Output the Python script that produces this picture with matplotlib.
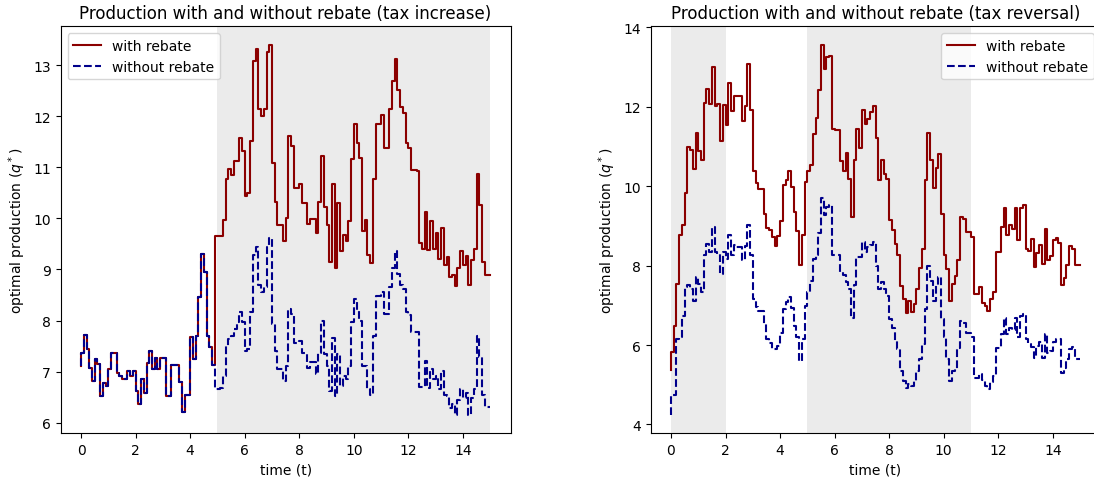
import numpy as np
import matplotlib
matplotlib.use("Agg")
import matplotlib.pyplot as plt

# time grid (0 .. 15 in steps of 0.1)
time = np.round(np.arange(151) * 0.1, 1)

# ---- left panel: tax increase ----
inc_common = [7.11, 7.36, 7.72, 7.44, 7.08, 6.82, 7.24, 7.14, 6.53, 6.78,
              6.72, 7.05, 7.37, 7.37, 6.98, 6.91, 6.85, 6.85, 7.01, 6.91,
              7.01, 6.62, 6.37, 6.85, 6.59, 7.16, 7.40, 7.05, 7.26, 7.05,
              7.26, 7.26, 6.53, 6.53, 7.12, 7.12, 7.12, 6.80, 6.20, 6.55,
              6.55, 7.67, 7.24, 7.70, 8.46, 9.31, 8.95, 7.70, 7.49, 7.12]
inc_with_after = [9.66, 9.66, 9.66, 9.97, 10.78, 10.96, 10.85, 11.12, 11.12, 11.58,
                  11.32, 10.43, 10.50, 11.52, 13.09, 13.32, 12.14, 12.01, 12.14, 13.26,
                  13.40, 11.09, 10.33, 9.87, 9.87, 9.56, 10.00, 11.61, 11.42, 10.60,
                  10.60, 10.67, 10.30, 10.30, 9.90, 9.99, 9.99, 9.71, 10.32, 11.23,
                  10.23, 9.87, 9.15, 10.67, 9.03, 10.30, 9.36, 9.67, 9.56, 9.95,
                  11.17, 11.84, 11.48, 11.19, 9.75, 9.97, 9.28, 9.12, 10.78, 11.84,
                  11.84, 12.03, 11.37, 11.37, 12.14, 12.69, 13.13, 12.51, 12.19, 12.06,
                  11.48, 11.37, 10.95, 10.95, 10.92, 9.51, 9.41, 10.12, 9.38, 9.95,
                  9.40, 9.71, 9.20, 9.82, 9.08, 9.25, 8.85, 8.90, 8.68, 9.02,
                  9.36, 9.08, 9.27, 8.69, 9.18, 9.40, 10.86, 10.27, 9.15, 8.89,
                  8.89]
inc_without_after = [6.65, 6.65, 6.68, 6.91, 7.51, 7.64, 7.70, 7.83, 7.97, 8.16,
                     7.97, 7.41, 7.44, 8.16, 9.28, 9.44, 8.69, 8.56, 8.66, 9.44,
                     9.61, 7.93, 7.41, 7.05, 7.05, 6.81, 7.11, 8.23, 8.13, 7.57,
                     7.57, 7.60, 7.37, 7.37, 7.08, 7.18, 7.18, 6.95, 7.37, 8.00,
                     7.34, 7.11, 6.62, 7.65, 6.52, 7.34, 6.72, 6.91, 6.85, 7.11,
                     7.97, 8.43, 8.20, 8.00, 7.11, 7.11, 6.65, 6.55, 7.70, 8.49,
                     8.49, 8.56, 8.13, 8.13, 8.66, 9.02, 9.36, 8.92, 8.69, 8.62,
                     8.16, 8.10, 7.77, 7.77, 7.77, 6.70, 6.70, 7.21, 6.68, 7.06,
                     6.85, 6.91, 6.65, 7.01, 6.55, 6.52, 6.29, 6.36, 6.16, 6.45,
                     6.66, 6.49, 6.59, 6.16, 6.49, 6.66, 7.69, 7.28, 6.55, 6.31,
                     6.31]
inc_with = inc_common + inc_with_after
inc_without = inc_common + inc_without_after

# ---- right panel: tax reversal ----
rev_with = [5.37, 5.82, 6.47, 7.54, 8.76, 9.02, 9.82, 10.98, 10.92, 10.44,
            11.33, 10.89, 10.66, 12.10, 12.45, 12.06, 12.99, 12.01, 12.06, 11.13,
            12.04, 11.55, 12.61, 11.89, 12.27, 12.27, 12.27, 11.65, 12.01, 13.07,
            11.93, 10.38, 10.07, 9.93, 9.93, 9.29, 8.95, 8.89, 8.72, 8.49,
            8.75, 9.12, 10.03, 10.16, 10.37, 9.99, 9.34, 8.86, 8.02, 8.76,
            10.10, 10.37, 10.54, 11.31, 11.72, 12.41, 13.56, 12.94, 13.26, 13.28,
            11.45, 11.42, 11.42, 10.64, 10.38, 10.83, 10.18, 9.23, 10.66, 11.45,
            10.96, 11.93, 11.57, 11.68, 11.87, 12.01, 11.21, 10.16, 10.66, 10.30,
            10.18, 9.14, 8.89, 8.55, 8.27, 7.48, 7.16, 6.80, 7.12, 6.84,
            7.03, 7.41, 7.94, 8.43, 10.16, 11.34, 10.66, 9.95, 10.45, 10.81,
            9.29, 8.27, 7.92, 7.12, 7.54, 7.73, 8.13, 9.23, 9.17, 8.85,
            8.85, 8.72, 7.29, 7.29, 7.45, 7.07, 6.99, 6.86, 7.16, 7.34,
            8.34, 8.34, 8.97, 9.44, 8.78, 9.03, 8.92, 9.44, 8.64, 9.44,
            9.52, 8.43, 8.36, 8.68, 7.96, 8.32, 8.53, 8.05, 8.92, 8.13,
            8.24, 8.64, 8.70, 8.58, 7.51, 7.68, 8.02, 8.49, 8.41, 8.02,
            8.02]
rev_without = [4.25, 4.75, 4.75, 6.15, 6.19, 6.74, 7.45, 7.50, 7.41, 7.12,
               7.71, 7.54, 7.33, 8.26, 8.55, 8.34, 8.97, 8.34, 8.30, 7.79,
               8.34, 8.17, 8.78, 8.27, 8.51, 8.47, 8.47, 8.13, 8.49, 9.02,
               8.27, 7.16, 6.95, 6.86, 6.86, 6.53, 6.15, 6.06, 5.89, 5.89,
               5.98, 6.31, 6.91, 7.09, 7.20, 6.92, 6.48, 6.19, 5.60, 6.15,
               6.99, 7.33, 7.62, 8.17, 8.27, 8.81, 9.69, 9.27, 9.48, 9.52,
               8.27, 8.27, 8.27, 7.83, 7.77, 7.58, 7.41, 6.67, 7.50, 8.21,
               8.21, 8.59, 8.34, 8.47, 8.53, 8.59, 8.00, 7.41, 7.58, 7.41,
               7.24, 6.65, 6.44, 6.10, 5.91, 5.34, 5.09, 4.92, 5.01, 4.96,
               5.09, 5.34, 5.65, 6.02, 6.91, 8.00, 7.62, 7.12, 7.50, 7.71,
               6.65, 6.19, 5.64, 5.09, 5.34, 5.39, 5.93, 6.61, 6.55, 6.31,
               6.31, 6.19, 5.17, 5.17, 5.26, 5.13, 4.98, 4.88, 5.06, 5.23,
               5.93, 5.93, 6.27, 6.67, 6.27, 6.44, 6.38, 6.67, 6.19, 6.74,
               6.78, 6.16, 6.02, 5.96, 5.68, 5.98, 6.08, 5.68, 6.27, 5.81,
               5.85, 6.08, 6.15, 6.15, 5.30, 5.43, 5.65, 5.91, 5.96, 5.65,
               5.65]

inc_spans = [(5, 15)]
rev_spans = [(0, 2), (5, 11)]
titles = ["Production with and without rebate (tax increase)",
          "Production with and without rebate (tax reversal)"]
labels = ["with rebate", "without rebate"]

W, H = 1094, 481
fig = plt.figure(figsize=(W / 100, H / 100), dpi=100)
ax1 = fig.add_axes([60.6 / W, 1 - 434 / H, 450 / W, 406.7 / H])
ax2 = fig.add_axes([650.5 / W, 1 - 434 / H, 450 / W, 406.7 / H])

panels = [(ax1, inc_with, inc_without, inc_spans, titles[0], "upper left"),
          (ax2, rev_with, rev_without, rev_spans, titles[1], "upper right")]

for ax, yw, yo, spans, title, loc in panels:
    for a, b in spans:
        ax.axvspan(a, b, facecolor="#ebebeb", edgecolor="none", zorder=0)
    ax.step(time, yw, where="pre", color="darkred", lw=1.5, label=labels[0])
    ax.step(time, yo, where="pre", color="darkblue", lw=1.5, ls="--", label=labels[1])
    ax.set_xticks(range(0, 15, 2))
    ax.set_title(title, fontsize=12)
    ax.set_xlabel("time (t)")
    ax.set_ylabel("optimal production ($q^*$)")
    ax.legend(loc=loc)

fig.savefig("out.png", dpi=100)
